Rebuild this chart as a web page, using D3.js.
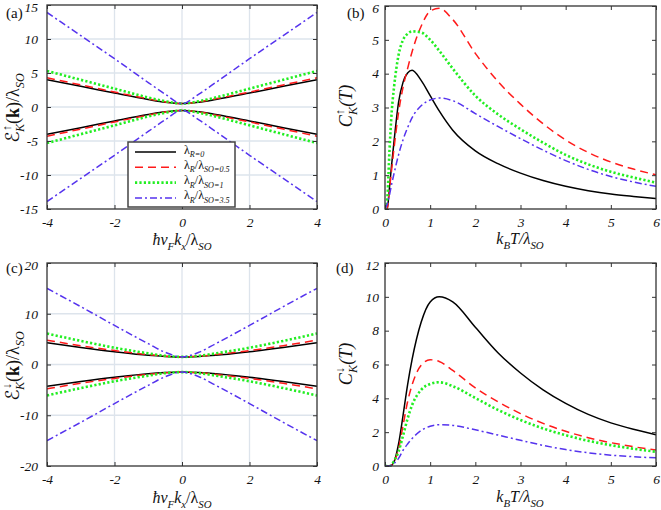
<!DOCTYPE html>
<html><head><meta charset="utf-8">
<script src="https://cdn.jsdelivr.net/npm/d3@7"></script>
<style>
html,body{margin:0;padding:0;background:#fff;}
svg{display:block;}
text{font-family:"Liberation Serif","DejaVu Serif",serif;}
</style></head>
<body>
<svg id="chart" width="661" height="510"></svg>
<script>
// ---------- DATA ----------
const seriesNames = ["λR=0", "λR/λSO=0.5", "λR/λSO=1", "λR/λSO=3.5"];
const legendValues = ["0", "0.5", "1", "3.5"];

// panel (a): band energies, spin up
const kA = [-4, -3, -2, -1, -0.5, 0, 0.5, 1, 2, 3, 4];
const aUpBlack = [4.0, 3.05, 2.05, 1.1, 0.7, 0.5, 0.7, 1.1, 2.05, 3.05, 4.0];
const aUpRed   = [4.3, 3.25, 2.2, 1.2, 0.75, 0.5, 0.75, 1.2, 2.2, 3.25, 4.3];
const aUpGreen = [5.3, 4.0, 2.7, 1.4, 0.85, 0.5, 0.85, 1.4, 2.7, 4.0, 5.3];
const aUpBlue  = [13.9, 10.5, 7.1, 3.6, 1.9, 0.5, 1.9, 3.6, 7.1, 10.5, 13.9];
const aLoBlack = [-4.0, -3.05, -2.05, -1.1, -0.7, -0.5, -0.7, -1.1, -2.05, -3.05, -4.0];
const aLoRed   = [-4.3, -3.25, -2.2, -1.2, -0.75, -0.5, -0.75, -1.2, -2.2, -3.25, -4.3];
const aLoGreen = [-5.3, -4.0, -2.7, -1.4, -0.85, -0.5, -0.85, -1.4, -2.7, -4.0, -5.3];
const aLoBlue  = [-13.9, -10.5, -7.1, -3.6, -1.9, -0.5, -1.9, -3.6, -7.1, -10.5, -13.9];

// panel (c): band energies, spin down
const kC = [-4, -3, -2, -1, -0.5, 0, 0.5, 1, 2, 3, 4];
const cUpBlack = [4.3, 3.35, 2.5, 1.8, 1.6, 1.5, 1.6, 1.8, 2.5, 3.35, 4.3];
const cUpRed   = [4.8, 3.7, 2.75, 1.95, 1.65, 1.5, 1.65, 1.95, 2.75, 3.7, 4.8];
const cUpGreen = [6.1, 4.65, 3.3, 2.2, 1.7, 1.5, 1.7, 2.2, 3.3, 4.65, 6.1];
const cUpBlue  = [15.0, 11.4, 7.7, 4.1, 2.4, 1.5, 2.4, 4.1, 7.7, 11.4, 15.0];
const cLoBlack = [-4.3, -3.35, -2.5, -1.8, -1.6, -1.5, -1.6, -1.8, -2.5, -3.35, -4.3];
const cLoRed   = [-4.8, -3.7, -2.75, -1.95, -1.65, -1.5, -1.65, -1.95, -2.75, -3.7, -4.8];
const cLoGreen = [-6.1, -4.65, -3.3, -2.2, -1.7, -1.5, -1.7, -2.2, -3.3, -4.65, -6.1];
const cLoBlue  = [-15.0, -11.4, -7.7, -4.1, -2.4, -1.5, -2.4, -4.1, -7.7, -11.4, -15.0];

// panels (b),(d): heat capacity vs temperature
const tVals = [0, 0.05, 0.1, 0.15, 0.2, 0.3, 0.4, 0.5, 0.6, 0.8, 1.0, 1.2, 1.5, 2, 2.5, 3, 3.5, 4, 4.5, 5, 5.5, 6];
const bBlack = [0, 0.02, 0.65, 1.35, 2.0, 3.15, 3.75, 4.02, 4.1, 3.8, 3.35, 2.9, 2.33, 1.72, 1.34, 1.06, 0.84, 0.67, 0.54, 0.44, 0.37, 0.31];
const bRed   = [0, 0.02, 0.6, 1.2, 1.8, 2.85, 3.6, 4.15, 4.65, 5.4, 5.85, 5.93, 5.6, 4.6, 3.77, 3.1, 2.52, 2.04, 1.67, 1.39, 1.18, 1.01];
const bGreen = [0, 0.3, 1.75, 2.9, 3.6, 4.55, 5.0, 5.18, 5.25, 5.22, 5.0, 4.68, 4.15, 3.35, 2.8, 2.36, 1.96, 1.6, 1.32, 1.1, 0.93, 0.78];
const bBlue  = [0, 0.15, 0.42, 0.75, 1.05, 1.6, 2.05, 2.4, 2.7, 3.05, 3.22, 3.28, 3.2, 2.82, 2.44, 2.08, 1.74, 1.43, 1.17, 0.96, 0.8, 0.67];
const dBlack = [0, 0, 0, 0.05, 0.25, 1.3, 3.0, 4.8, 6.3, 8.5, 9.7, 10.0, 9.7, 8.2, 6.7, 5.5, 4.5, 3.7, 3.05, 2.55, 2.17, 1.85];
const dRed   = [0, 0, 0, 0.05, 0.25, 1.0, 2.4, 3.8, 4.8, 5.95, 6.28, 6.18, 5.65, 4.62, 3.8, 3.1, 2.52, 2.05, 1.67, 1.38, 1.14, 0.94];
const dGreen = [0, 0, 0, 0.08, 0.3, 0.85, 1.8, 2.8, 3.6, 4.5, 4.85, 4.95, 4.72, 4.02, 3.32, 2.72, 2.22, 1.82, 1.49, 1.23, 1.02, 0.84];
const dBlue  = [0, 0, 0, 0.05, 0.15, 0.45, 0.93, 1.3, 1.62, 2.1, 2.35, 2.44, 2.4, 2.14, 1.83, 1.52, 1.22, 0.97, 0.78, 0.64, 0.55, 0.48];

const kTicks = [-4, -2, 0, 2, 4];
const aYTicks = [-15, -10, -5, 0, 5, 10, 15];
const cYTicks = [-20, -10, 0, 10, 20];
const tTicks = [0, 1, 2, 3, 4, 5, 6];
const bYTicks = [0, 1, 2, 3, 4, 5, 6];
const dYTicks = [0, 2, 4, 6, 8, 10, 12];

// ---------- STYLES ----------
const styles = [
  {color: "#000000", width: 1.5, dash: null},
  {color: "#ff1a1a", width: 1.5, dash: "8,5"},
  {color: "#22ee22", width: 2.6, dash: "2.2,2.2"},
  {color: "#5533ee", width: 1.5, dash: "7,3,2,3"}
];

const svg = d3.select("#chart");

function richText(sel, parts, size) {
  let cur = 0;
  parts.forEach(p => {
    const kind = p.k || "n";
    const off = kind === "sub" ? size * 0.3 : kind === "sup" ? -size * 0.42 : 0;
    const ts = sel.append("tspan").text(p.t)
      .attr("dy", off - cur)
      .attr("font-size", p.fs || (kind === "n" ? size : size * 0.68))
      .attr("font-style", p.i === false ? "normal" : "italic");
    if (p.dx) ts.attr("dx", p.dx);
    if (p.b) ts.attr("font-weight", "bold");
    if (p.ff) ts.style("font-family", p.ff);
    cur = off;
  });
}

function panel(cfg) {
  const g = svg.append("g");
  const x = d3.scaleLinear().domain(cfg.xd).range([cfg.l, cfg.r]);
  const y = d3.scaleLinear().domain(cfg.yd).range([cfg.b, cfg.t]);

  if (cfg.grid) {
    g.append("g").selectAll("line").data(cfg.xt.slice(1, -1)).join("line")
      .attr("x1", d => x(d)).attr("x2", d => x(d)).attr("y1", cfg.t).attr("y2", cfg.b)
      .attr("stroke", "#dde4ec").attr("stroke-width", 1.3);
    g.append("g").selectAll("line").data(cfg.yt.slice(1, -1)).join("line")
      .attr("y1", d => y(d)).attr("y2", d => y(d)).attr("x1", cfg.l).attr("x2", cfg.r)
      .attr("stroke", "#dde4ec").attr("stroke-width", 1.3);
  }

  const clipId = "clip" + cfg.id;
  svg.append("clipPath").attr("id", clipId).append("rect")
    .attr("x", cfg.l).attr("y", cfg.t - 1).attr("width", cfg.r - cfg.l).attr("height", cfg.b - cfg.t + 2);

  const lines = g.append("g").attr("clip-path", `url(#${clipId})`);
  const line = d3.line().x(d => x(d[0])).y(d => y(d[1])).curve(d3.curveMonotoneX);
  cfg.series.forEach(s => {
    const st = styles[s.s];
    lines.append("path")
      .attr("d", line(cfg.xs.map((v, i) => [v, s.v[i]])))
      .attr("fill", "none").attr("stroke", st.color).attr("stroke-width", st.width)
      .attr("stroke-dasharray", st.dash);
  });

  const fmt = d => String(d);
  const ax = (gen, tr) => {
    const a = g.append("g").attr("transform", tr).call(gen);
    a.select(".domain").remove();
    a.selectAll("line").attr("stroke", "#333").attr("stroke-width", 1);
    a.selectAll("text").attr("font-style", "italic").attr("font-size", 13.5).attr("fill", "#111");
    return a;
  };
  ax(d3.axisBottom(x).tickValues(cfg.xt).tickFormat(fmt).tickSizeInner(-4).tickSizeOuter(0).tickPadding(8), `translate(0,${cfg.b})`);
  ax(d3.axisTop(x).tickValues(cfg.xt).tickFormat("").tickSizeInner(-4).tickSizeOuter(0), `translate(0,${cfg.t})`);
  const yl = ax(d3.axisLeft(y).tickValues(cfg.yt).tickFormat(fmt).tickSizeInner(-4).tickSizeOuter(0).tickPadding(cfg.ypad), `translate(${cfg.l},0)`);
  yl.selectAll("text").filter(d => d === cfg.yd[1]).attr("y", 2);
  ax(d3.axisRight(y).tickValues(cfg.yt).tickFormat("").tickSizeInner(-4).tickSizeOuter(0), `translate(${cfg.r},0)`);

  g.append("rect").attr("x", cfg.l).attr("y", cfg.t).attr("width", cfg.r - cfg.l).attr("height", cfg.b - cfg.t)
    .attr("fill", "none").attr("stroke", "#333").attr("stroke-width", 1.3);

  g.append("text").attr("x", cfg.lx).attr("y", cfg.ly).attr("font-size", 15).attr("fill", "#111").text(cfg.label);
  return {g, x, y};
}

// ---- Panel (a)
panel({
  id: "a", l: 47, r: 317, t: 5, b: 209, xd: [-4, 4], yd: [-15, 15], xt: kTicks, yt: aYTicks, grid: true, ypad: 9,
  xs: kA, label: "(a)", lx: 6, ly: 18,
  series: [
    {s: 0, v: aUpBlack}, {s: 0, v: aLoBlack}, {s: 1, v: aUpRed}, {s: 1, v: aLoRed},
    {s: 2, v: aUpGreen}, {s: 2, v: aLoGreen}, {s: 3, v: aUpBlue}, {s: 3, v: aLoBlue}
  ]
});
// ---- Panel (b)
panel({
  id: "b", l: 385, r: 656, t: 6, b: 209, xd: [0, 6], yd: [0, 6], xt: tTicks, yt: bYTicks, grid: false, ypad: 6,
  xs: tVals, label: "(b)", lx: 347, ly: 18,
  series: [{s: 0, v: bBlack}, {s: 1, v: bRed}, {s: 2, v: bGreen}, {s: 3, v: bBlue}]
});
// ---- Panel (c)
panel({
  id: "c", l: 47, r: 317, t: 263, b: 466, xd: [-4, 4], yd: [-20, 20], xt: kTicks, yt: cYTicks, grid: true, ypad: 9,
  xs: kC, label: "(c)", lx: 6, ly: 273,
  series: [
    {s: 0, v: cUpBlack}, {s: 0, v: cLoBlack}, {s: 1, v: cUpRed}, {s: 1, v: cLoRed},
    {s: 2, v: cUpGreen}, {s: 2, v: cLoGreen}, {s: 3, v: cUpBlue}, {s: 3, v: cLoBlue}
  ]
});
// ---- Panel (d)
panel({
  id: "d", l: 385, r: 656, t: 263, b: 466, xd: [0, 6], yd: [0, 12], xt: tTicks, yt: dYTicks, grid: false, ypad: 6,
  xs: tVals, label: "(d)", lx: 336, ly: 273,
  series: [{s: 0, v: dBlack}, {s: 1, v: dRed}, {s: 2, v: dGreen}, {s: 3, v: dBlue}]
});

// ---- Axis titles
function xTitleK(cx, cy) {
  const t = svg.append("text").attr("x", cx).attr("y", cy).attr("text-anchor", "middle").attr("fill", "#111");
  richText(t, [{t: "ħv"}, {t: "F", k: "sub"}, {t: "k"}, {t: "x", k: "sub"}, {t: "/λ", i: false}, {t: "SO", k: "sub"}], 16);
}
function xTitleT(cx, cy) {
  const t = svg.append("text").attr("x", cx).attr("y", cy).attr("text-anchor", "middle").attr("fill", "#111");
  richText(t, [{t: "k"}, {t: "B", k: "sub"}, {t: "T/λ"}, {t: "SO", k: "sub"}], 16);
}
function yTitleE(cx, cy, arrow) {
  const t = svg.append("text").attr("transform", `translate(${cx},${cy}) rotate(-90)`)
    .attr("text-anchor", "middle").attr("fill", "#111");
  richText(t, [{t: "ℰ", i: false, fs: 19, ff: "'DejaVu Sans', 'Noto Sans', sans-serif"}, {t: arrow, k: "sup", i: false},
    {t: "K", k: "sub", dx: -7}, {t: "(", i: false},
    {t: "k", i: false, b: true}, {t: ")/λ", i: false}, {t: "SO", k: "sub"}], 18);
}
function yTitleC(cx, cy, arrow) {
  const t = svg.append("text").attr("transform", `translate(${cx},${cy}) rotate(-90)`)
    .attr("text-anchor", "middle").attr("fill", "#111");
  richText(t, [{t: "C"}, {t: arrow, k: "sup", i: false}, {t: "K", k: "sub", dx: -6}, {t: "(T)"}], 18);
}
xTitleK(182, 245);
xTitleK(182, 503);
xTitleT(520, 244);
xTitleT(520, 502);
yTitleE(19, 108, "↑");
yTitleE(19, 366, "↓");
yTitleC(352, 106, "↑");
yTitleC(352, 364, "↓");

// ---- Legend in panel (a)
const leg = svg.append("g");
leg.append("rect").attr("x", 128).attr("y", 142).attr("width", 107).attr("height", 65)
  .attr("fill", "#fff").attr("stroke", "#444").attr("stroke-width", 1.5);
const legLabels = [
  [{t: "λ", i: false}, {t: "R", k: "sub"}, {t: "=" + legendValues[0], k: "sub"}],
  [{t: "λ", i: false}, {t: "R", k: "sub"}, {t: "/λ", i: false}, {t: "SO", k: "sub"}, {t: "=" + legendValues[1], k: "sub"}],
  [{t: "λ", i: false}, {t: "R", k: "sub"}, {t: "/λ", i: false}, {t: "SO", k: "sub"}, {t: "=" + legendValues[2], k: "sub"}],
  [{t: "λ", i: false}, {t: "R", k: "sub"}, {t: "/λ", i: false}, {t: "SO", k: "sub"}, {t: "=" + legendValues[3], k: "sub"}]
];
seriesNames.forEach((n, i) => {
  const yy = 152 + i * 15.3;
  const st = styles[i];
  leg.append("line").attr("x1", 135).attr("x2", 176).attr("y1", yy).attr("y2", yy)
    .attr("stroke", st.color).attr("stroke-width", st.width).attr("stroke-dasharray", st.dash);
  const t = leg.append("text").attr("x", 184).attr("y", yy + 1.5).attr("fill", "#111").attr("data-name", n);
  richText(t, legLabels[i], 12);
});
</script>
</body></html>
